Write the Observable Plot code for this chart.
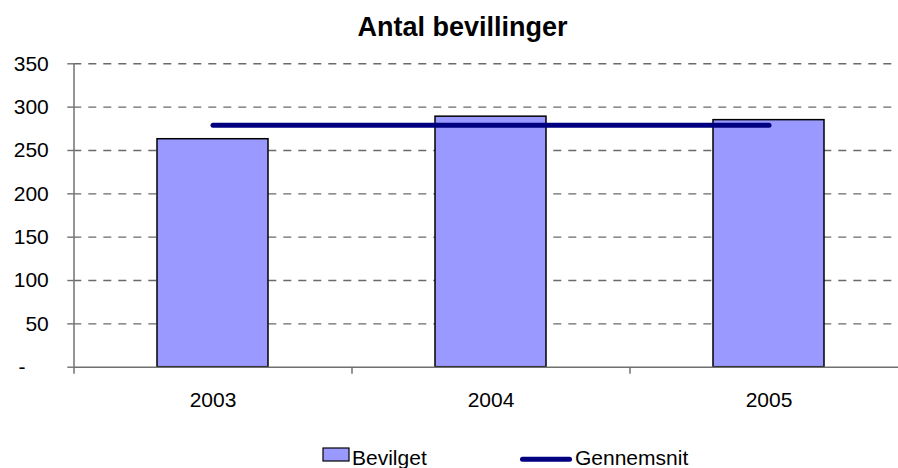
<!DOCTYPE html>
<html>
<head>
<meta charset="utf-8">
<script src="https://cdn.jsdelivr.net/npm/d3@7"></script>
<script src="https://cdn.jsdelivr.net/npm/@observablehq/plot@0.6"></script>
<style>
  html, body { margin: 0; padding: 0; background: #fff; overflow: hidden; }
  #wrap { position: relative; width: 898px; height: 468px; font-family: "Liberation Sans", Arial, sans-serif; }
  #title { position: absolute; left: 27px; width: 871px; top: 14px; text-align: center; font-size: 27px; line-height: 27px; font-weight: bold; color: #000; }
  #chart { position: absolute; left: 0; top: 48px; }
  #legend { position: absolute; left: 0; top: 420px; }
</style>
</head>
<body>
<div id="wrap">
  <div id="title">Antal bevillinger</div>
  <div id="chart"></div>
  <svg id="legend" width="898" height="48" font-family="Liberation Sans, Arial, sans-serif" font-size="21">
    <rect x="323" y="28" width="26" height="13" fill="#9999FF" stroke="#000" stroke-width="1.2"></rect>
    <text x="352" y="45" fill="#000">Bevilget</text>
    <line x1="522.5" y1="39.3" x2="569.5" y2="39.3" stroke="#000080" stroke-width="5" stroke-linecap="round"></line>
    <text x="575" y="45" fill="#000">Gennemsnit</text>
  </svg>
</div>
<script>
const years = ["2003", "2004", "2005"];
const bevilget = [263, 289, 285];
const gennemsnit = [279, 279, 279];
const yTicks = [0, 50, 100, 150, 200, 250, 300, 350];
const gridTicks = [50, 100, 150, 200, 250, 300, 350];

const data = years.map((year, i) => ({year, value: bevilget[i], avg: gennemsnit[i]}));

const plot = Plot.plot({
  width: 898,
  height: 372,
  marginTop: 15.3,
  marginBottom: 53.3,
  marginLeft: 73.3,
  marginRight: 0,
  style: {fontFamily: "Liberation Sans, Arial, sans-serif", fontSize: "21px", color: "#000", background: "#fff"},
  x: {type: "band", domain: years, range: [73.3, 907.3], paddingInner: 0.6, paddingOuter: 0.3, align: 0.5},
  y: {domain: [0, 350]},
  marks: [
    Plot.ruleY(gridTicks, {stroke: "#6a6a6a", strokeWidth: 1.4, strokeDasharray: "8,7"}),
    Plot.barY(data, {x: "year", y: "value", fill: "#9999FF", stroke: "#000", strokeWidth: 1.5}),
    Plot.ruleY([0], {stroke: "#707070", strokeWidth: 1.5}),
    Plot.ruleX([years[0]], {x: d => d, dx: -139, stroke: "#707070", strokeWidth: 1.5}),
    Plot.axisY({ticks: yTicks, tickSize: 6, tickPadding: 19, stroke: "#707070", strokeWidth: 1.4, fill: "#000", fontSize: 21,
      tickFormat: d => d === 0 ? "-\u00a0\u00a0\u00a0\u00a0" : String(d), label: null}),
    Plot.axisX({tickSize: 0, tickPadding: 25, fill: "#000", fontSize: 21, label: null}),
    Plot.axisX({tickSize: 7, dx: -139, stroke: "#707070", strokeWidth: 1.5, tickFormat: () => "", label: null}),
    Plot.lineY(data, {x: "year", y: "avg", stroke: "#000080", strokeWidth: 5, strokeLinecap: "round"})
  ]
});
document.getElementById("chart").appendChild(plot);
</script>
</body>
</html>
